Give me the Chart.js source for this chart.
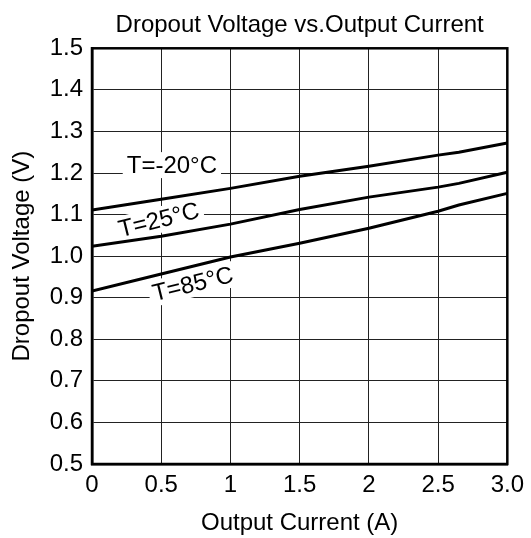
<!DOCTYPE html>
<html>
<head>
<meta charset="utf-8">
<script src="https://cdn.jsdelivr.net/npm/chart.js@4.4.1/dist/chart.umd.min.js"></script>
<style>
  html, body { margin: 0; padding: 0; background: #fff; }
  #wrap { width: 531px; height: 538px; }
</style>
</head>
<body>
<div id="wrap"><canvas id="dropoutChart"></canvas></div>
<script>
// Output current (A) sample points
const currentA = [0, 0.5, 1, 1.5, 2, 2.5, 2.65, 3];

// Dropout voltage (V) per temperature
const voltM20 = [1.111, 1.137, 1.163, 1.192, 1.216, 1.243, 1.25, 1.272];
const volt25 = [1.024, 1.048, 1.077, 1.112, 1.142, 1.166, 1.175, 1.202];
const volt85 = [0.916, 0.957, 0.998, 1.031, 1.067, 1.108, 1.123, 1.151];

// Tick labels
const xTickLabels = ["0", "0.5", "1", "1.5", "2", "2.5", "3.0"];
const yTickLabels = ["0.5", "0.6", "0.7", "0.8", "0.9", "1.0", "1.1", "1.2", "1.3", "1.4", "1.5"];

// Curve labels (text, anchor in data units, angle in degrees)
const labelText = ["T=-20°C", "T=25°C", "T=85°C"];
const labelX = [0.577, 0.483, 0.728];
const labelY = [1.219, 1.087, 0.933];
const labelAngle = [0, -14, -14];

const FONT = '"Liberation Sans", Arial, sans-serif';

function toPoints(xs, ys) {
  return xs.map((v, i) => ({ x: v, y: ys[i] }));
}

// White-boxed labels drawn over the grid, under the curves
const curveLabels = {
  id: "curveLabels",
  beforeDatasetsDraw(chart) {
    const { ctx, scales } = chart;
    ctx.save();
    ctx.font = "24px " + FONT;
    ctx.textAlign = "center";
    ctx.textBaseline = "middle";
    labelText.forEach((txt, i) => {
      const px = scales.x.getPixelForValue(labelX[i]);
      const py = scales.y.getPixelForValue(labelY[i]);
      const w = ctx.measureText(txt).width + 8;
      ctx.save();
      ctx.translate(px, py);
      ctx.rotate((labelAngle[i] * Math.PI) / 180);
      ctx.fillStyle = "#fff";
      ctx.fillRect(-w / 2, -13, w, 26);
      ctx.fillStyle = "#000";
      ctx.fillText(txt, 0, 1);
      ctx.restore();
    });
    ctx.restore();
  },
};

// Black frame around the plot area
const plotFrame = {
  id: "plotFrame",
  afterDraw(chart) {
    const { ctx, chartArea: a } = chart;
    ctx.save();
    ctx.strokeStyle = "#000";
    ctx.lineWidth = 2.5;
    ctx.strokeRect(a.left, a.top, a.right - a.left, a.bottom - a.top);
    ctx.restore();
  },
};

const lineStyle = {
  borderColor: "#000",
  borderWidth: 3,
  pointRadius: 0,
  tension: 0,
  fill: false,
};

new Chart(document.getElementById("dropoutChart"), {
  type: "line",
  data: {
    datasets: [
      { label: "T=-20°C", data: toPoints(currentA, voltM20), ...lineStyle },
      { label: "T=25°C", data: toPoints(currentA, volt25), ...lineStyle },
      { label: "T=85°C", data: toPoints(currentA, volt85), ...lineStyle },
    ],
  },
  options: {
    responsive: true,
    maintainAspectRatio: false,
    animation: false,
    layout: { padding: { left: 0, right: 23, top: 0, bottom: 0 } },
    plugins: {
      legend: { display: false },
      tooltip: { enabled: false },
      title: {
        display: true,
        fullSize: false,
        text: "Dropout Voltage vs.Output Current",
        color: "#000",
        font: { family: FONT, size: 24, weight: "normal" },
        padding: { top: 11, bottom: 8.5 },
      },
    },
    scales: {
      x: {
        type: "linear",
        min: 0,
        max: 3,
        afterFit(scale) {
          scale.height = 74;
        },
        ticks: {
          stepSize: 0.5,
          padding: 7,
          color: "#000",
          font: { family: FONT, size: 24 },
          maxRotation: 0,
          callback: (value, index) => xTickLabels[index],
        },
        grid: { color: "#222", lineWidth: 1, drawTicks: false },
        border: { color: "#000", width: 2.5 },
        title: {
          display: true,
          text: "Output Current (A)",
          color: "#000",
          font: { family: FONT, size: 24 },
          padding: { top: 0, bottom: 0 },
        },
      },
      y: {
        min: 0.5,
        max: 1.5,
        afterFit(scale) {
          scale.width = 92;
        },
        ticks: {
          stepSize: 0.1,
          padding: 9,
          color: "#000",
          font: { family: FONT, size: 24 },
          callback: (value, index) => yTickLabels[index],
        },
        grid: { color: "#222", lineWidth: 1, drawTicks: false },
        border: { color: "#000", width: 2.5 },
        title: {
          display: true,
          text: "Dropout Voltage (V)",
          color: "#000",
          font: { family: FONT, size: 24 },
          padding: { top: 8, bottom: 0 },
        },
      },
    },
  },
  plugins: [curveLabels, plotFrame],
});
</script>
</body>
</html>
